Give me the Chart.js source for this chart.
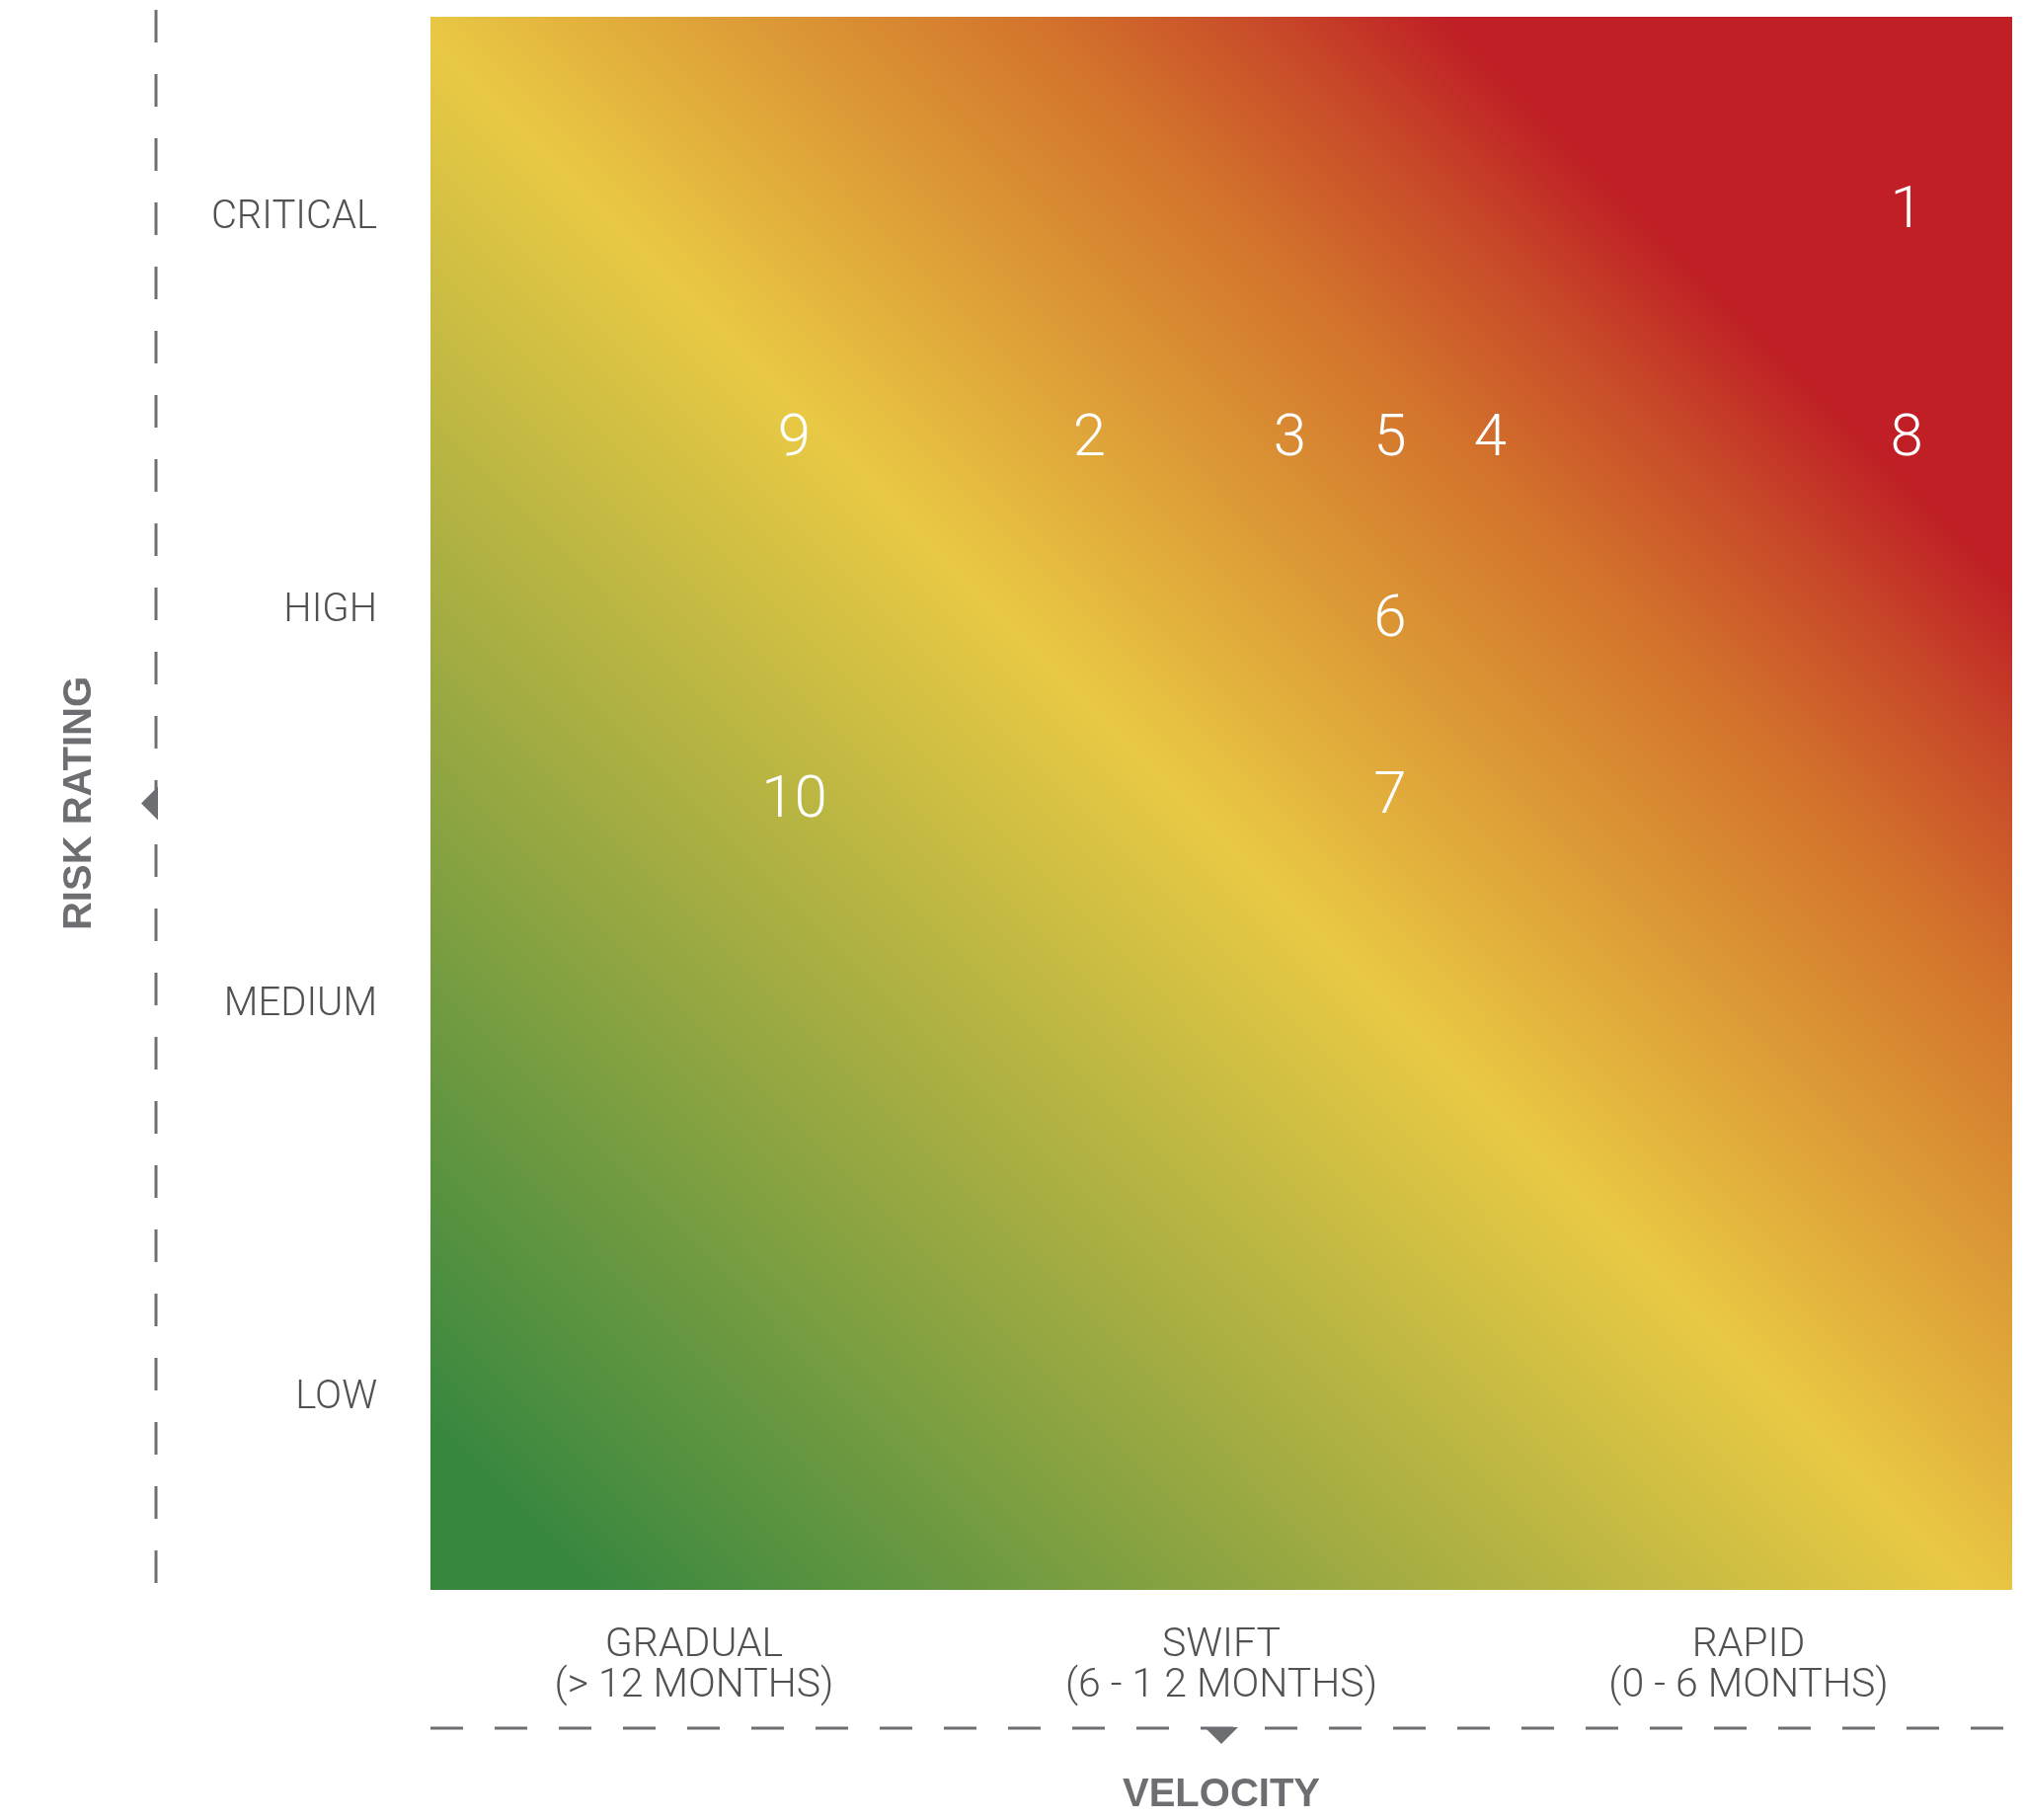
<!DOCTYPE html>
<html>
<head>
<meta charset="utf-8">
<script src="https://cdn.jsdelivr.net/npm/chart.js@4.4.1/dist/chart.umd.min.js"></script>
<style>
  html, body { margin: 0; padding: 0; background: #ffffff; }
  #wrap { width: 2051px; height: 1843px; }
</style>
</head>
<body>
<div id="wrap"><canvas id="riskChart" width="2051" height="1843"></canvas></div>
<script>
// categories on both axes
const riskLevels = ['LOW', 'MEDIUM', 'HIGH', 'CRITICAL'];
const velocityLabels = [
    ['GRADUAL', '(> 12 MONTHS)'],
    ['SWIFT', '(6 - 1 2 MONTHS)'],
    ['RAPID', '(0 - 6 MONTHS)']
];
const riskTickValues = [0.5, 1.5, 2.5, 3.5];
const velocityTickValues = [0.5, 1.5, 2.5];

// numbered risks, positions (velocity 0-3, rating 0-4)
const riskIds = ['1', '2', '3', '4', '5', '6', '7', '8', '9', '10'];
const velocityScores = [2.80, 1.25, 1.63, 2.01, 1.82, 1.82, 1.82, 2.80, 0.69, 0.69];
const ratingScores = [3.52, 2.94, 2.94, 2.94, 2.94, 2.48, 2.03, 2.94, 2.94, 2.02];

const labelFont = "Roboto, 'Liberation Sans', Arial, sans-serif";
const titleFont = "'Liberation Sans', Arial, sans-serif";
const textGrey = '#505153';
const lineGrey = '#6d6e71';

// diagonal green -> yellow -> red wash behind the plot
const gradientBackground = {
    id: 'gradientBackground',
    beforeDatasetsDraw(chart) {
        const { ctx, chartArea: a } = chart;
        const g = ctx.createLinearGradient(a.left, a.bottom, a.right, a.top);
        g.addColorStop(0.05, '#37873f');
        g.addColorStop(0.30, '#a0ab42');
        g.addColorStop(0.49, '#e9c944');
        g.addColorStop(0.60, '#dc9a36');
        g.addColorStop(0.69, '#d3732c');
        g.addColorStop(0.76, '#c84a29');
        g.addColorStop(0.82, '#bf1f25');
        ctx.save();
        ctx.fillStyle = g;
        ctx.fillRect(a.left, a.top, a.right - a.left, a.bottom - a.top);
        ctx.restore();
    }
};

// white numbers at each point
const numberLabels = {
    id: 'numberLabels',
    afterDatasetsDraw(chart) {
        const { ctx } = chart;
        const meta = chart.getDatasetMeta(0);
        const size = 60;
        ctx.save();
        ctx.fillStyle = '#ffffff';
        ctx.font = '300 ' + size + 'px ' + labelFont;
        ctx.textAlign = 'center';
        ctx.textBaseline = 'alphabetic';
        meta.data.forEach((pt, i) => {
            ctx.fillText(riskIds[i], pt.x, pt.y + size * 0.36);
        });
        ctx.restore();
    }
};

// dashed axis lines with little arrow heads
const axisGuides = {
    id: 'axisGuides',
    afterDraw(chart) {
        const { ctx, chartArea: a } = chart;
        const lineX = 158;
        const lineY = 1750;
        ctx.save();
        ctx.strokeStyle = lineGrey;
        ctx.fillStyle = lineGrey;
        ctx.lineWidth = 3;
        ctx.setLineDash([33, 32]);

        ctx.beginPath();
        ctx.moveTo(lineX, 10);
        ctx.lineTo(lineX, a.bottom);
        ctx.stroke();

        ctx.beginPath();
        ctx.moveTo(a.left, lineY);
        ctx.lineTo(a.right, lineY);
        ctx.stroke();

        ctx.setLineDash([]);
        const midY = (a.top + a.bottom) / 2;
        ctx.beginPath();
        ctx.moveTo(lineX + 2, midY - 17);
        ctx.lineTo(lineX - 15, midY);
        ctx.lineTo(lineX + 2, midY + 17);
        ctx.closePath();
        ctx.fill();

        const midX = (a.left + a.right) / 2;
        ctx.beginPath();
        ctx.moveTo(midX - 17, lineY - 1);
        ctx.lineTo(midX + 17, lineY - 1);
        ctx.lineTo(midX, lineY + 16);
        ctx.closePath();
        ctx.fill();
        ctx.restore();
    }
};

new Chart(document.getElementById('riskChart'), {
    type: 'scatter',
    data: {
        datasets: [{
            data: riskIds.map((id, i) => ({ x: velocityScores[i], y: ratingScores[i] })),
            pointRadius: 0,
            pointHoverRadius: 0
        }]
    },
    options: {
        responsive: false,
        devicePixelRatio: 1,
        animation: false,
        events: [],
        layout: { padding: { top: 17, right: 13, left: 0, bottom: 0 } },
        plugins: { legend: { display: false }, tooltip: { enabled: false } },
        scales: {
            x: {
                type: 'linear',
                min: 0,
                max: 3,
                grid: { display: false, drawTicks: false },
                border: { display: false },
                afterBuildTicks: scale => {
                    scale.ticks = velocityTickValues.map(v => ({ value: v }));
                },
                afterFit: scale => {
                    scale.height = 233;
                    scale.paddingLeft = 0;
                    scale.paddingRight = 0;
                },
                ticks: {
                    autoSkip: false,
                    maxRotation: 0,
                    padding: 36,
                    color: textGrey,
                    font: { family: labelFont, size: 41, weight: 300, lineHeight: 1.0 },
                    callback: (value, index) => velocityLabels[index]
                },
                title: {
                    display: true,
                    text: 'VELOCITY',
                    color: lineGrey,
                    padding: { top: 0, bottom: 1 },
                    font: { family: titleFont, size: 40, weight: 'bold', lineHeight: 1.2 }
                }
            },
            y: {
                type: 'linear',
                min: 0,
                max: 4,
                grid: { display: false, drawTicks: false },
                border: { display: false },
                afterBuildTicks: scale => {
                    scale.ticks = riskTickValues.map(v => ({ value: v }));
                },
                afterFit: scale => {
                    scale.width = 436;
                    scale.paddingTop = 0;
                    scale.paddingBottom = 0;
                },
                ticks: {
                    autoSkip: false,
                    padding: 54,
                    labelOffset: 5,
                    color: textGrey,
                    font: { family: labelFont, size: 40, weight: 300 },
                    callback: (value, index) => riskLevels[index]
                },
                title: {
                    display: true,
                    text: 'RISK RATING',
                    color: lineGrey,
                    padding: { top: 57, bottom: 0 },
                    font: { family: titleFont, size: 40, weight: 'bold', lineHeight: 1.2 }
                }
            }
        }
    },
    plugins: [gradientBackground, numberLabels, axisGuides]
});
</script>
</body>
</html>
